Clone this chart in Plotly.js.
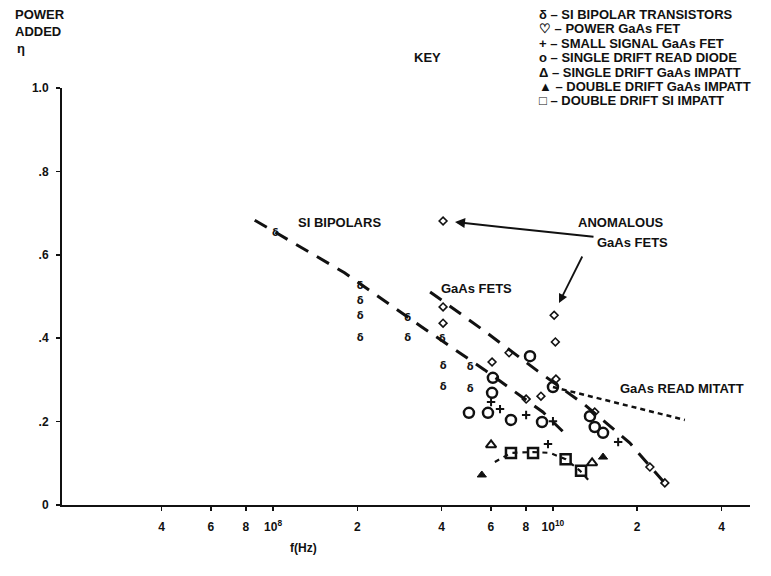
<!DOCTYPE html>
<html>
<head>
<meta charset="utf-8">
<script src="https://cdn.plot.ly/plotly-3.0.1.min.js"></script>
<style>html,body{margin:0;padding:0;background:#fff;}#chart{width:771px;height:576px;}</style>
</head>
<body>
<div id="chart"></div>
<script>
// ---------- data (frequency in Hz on the printed log scale, efficiency eta) ----------
const siBipolarF   = [1.02e8, 2.05e8, 2.05e8, 2.05e8, 2.05e8, 3.03e8, 3.03e8, 4.02e8, 4.05e8, 4.05e8, 5.06e8, 5.06e8];
const siBipolarEta = [0.652, 0.523, 0.487, 0.451, 0.400, 0.448, 0.400, 0.396, 0.331, 0.281, 0.329, 0.276];

const powerFetF    = [4.05e8, 4.05e8, 4.05e8, 6.06e8, 6.97e8, 1.01e9, 1.02e9, 1.025e9, 8.02e8, 9.06e8, 1.41e9, 2.22e9, 2.51e9];
const powerFetEta  = [0.681, 0.475, 0.436, 0.343, 0.365, 0.455, 0.391, 0.302, 0.254, 0.261, 0.223, 0.091, 0.053];

const smallFetF    = [6.01e8, 6.47e8, 8.02e8, 1.0e9, 9.6e8, 1.71e9];
const smallFetEta  = [0.247, 0.230, 0.216, 0.201, 0.146, 0.151];

const readDiodeF   = [6.1e8, 6.06e8, 5.01e8, 5.86e8, 7.08e8, 8.28e8, 9.14e8, 1.0e9, 1.356e9, 1.41e9, 1.51e9];
const readDiodeEta = [0.305, 0.269, 0.221, 0.221, 0.204, 0.357, 0.199, 0.283, 0.213, 0.187, 0.173];

const sdGaAsF      = [6.01e8, 1.38e9];
const sdGaAsEta    = [0.144, 0.101];

const ddGaAsF      = [5.57e8, 1.51e9];
const ddGaAsEta    = [0.072, 0.115];

const ddSiF        = [7.08e8, 8.49e8, 1.11e9, 1.26e9];
const ddSiEta      = [0.125, 0.125, 0.110, 0.082];

// trend curves
const siLineF      = [8.6e7, 1.8e8, 3.4e8, 5.7e8, 9.2e8, 1.09e9];
const siLineEta    = [0.683, 0.557, 0.427, 0.324, 0.223, 0.175];
const fetLineF     = [3.64e8, 5.62e8, 8.83e8, 1.30e9, 1.88e9, 2.58e9];
const fetLineEta   = [0.511, 0.420, 0.321, 0.240, 0.149, 0.043];
const mitattLineF  = [1.0e9, 2.96e9];
const mitattLineEta= [0.283, 0.204];
const impattLineF  = [6.2e8, 7.08e8, 8.49e8, 9.75e8, 1.11e9, 1.25e9, 1.36e9];
const impattLineEta= [0.103, 0.125, 0.127, 0.125, 0.110, 0.082, 0.055];

// axis ticks
const xTickVals  = [4e7, 6e7, 8e7, 1e8, 2e8, 4e8, 6e8, 8e8, 1e9, 2e9, 4e9];
const xTickText  = ["4", "6", "8", "10<sup>8</sup>", "2", "4", "6", "8", "10<sup>10</sup>", "2", "4"];
const yTickVals  = [0, 0.2, 0.4, 0.6, 0.8, 1.0];
const yTickText  = ["0", ".2", ".4", ".6", ".8", "1.0"];

// key
const keyLines = [
  "δ – SI BIPOLAR TRANSISTORS",
  "♡ – POWER GaAs FET",
  "+ – SMALL SIGNAL GaAs FET",
  "o – SINGLE DRIFT READ DIODE",
  "Δ – SINGLE DRIFT GaAs IMPATT",
  "▲ – DOUBLE DRIFT GaAs IMPATT",
  "□ – DOUBLE DRIFT SI IMPATT"
];

// ---------- layout helpers ----------
const W = 771, H = 576, ML = 62, MR = 21, MT = 88, MB = 71;
const PW = W - ML - MR, PH = H - MT - MB;
function px(x) { return (x - ML) / PW; }
function py(y) { return (H - MB - y) / PH; }
const FONT = "Liberation Sans, Arial, sans-serif";
const txt = (s, x, y, opts) => Object.assign({
  text: "<b>" + s + "</b>", x: px(x), y: py(y), xref: "paper", yref: "paper",
  showarrow: false, xanchor: "center", yanchor: "middle",
  font: {family: FONT, size: 13, color: "#111"}
}, opts || {});

const lineTrace = (f, e, dash, w) => ({
  x: f, y: e, mode: "lines", type: "scatter", hoverinfo: "skip",
  line: {color: "#111", width: w, dash: dash}
});
const markTrace = (f, e, sym, size, lw) => ({
  x: f, y: e, mode: "markers", type: "scatter", cliponaxis: false, hoverinfo: "skip",
  marker: {symbol: sym, size: size, color: "#111", line: {color: "#111", width: lw}}
});

const data = [
  lineTrace(siLineF, siLineEta, "14px,10px", 3),
  lineTrace(fetLineF, fetLineEta, "14px,10px", 3),
  lineTrace(mitattLineF, mitattLineEta, "5px,4px", 2.5),
  lineTrace(impattLineF, impattLineEta, "5px,5px", 2.2),
  {x: siBipolarF, y: siBipolarEta, mode: "text", type: "scatter", text: siBipolarF.map(() => "<b>δ</b>"),
   cliponaxis: false, hoverinfo: "skip", textfont: {family: "DejaVu Sans", size: 10, color: "#111"}},
  markTrace(powerFetF, powerFetEta, "diamond-open", 6, 1.6),
  markTrace(smallFetF, smallFetEta, "cross-thin-open", 6, 2),
  markTrace(readDiodeF, readDiodeEta, "circle-open", 10, 2.5),
  markTrace(sdGaAsF, sdGaAsEta, "triangle-up-open", 9, 2),
  markTrace(ddGaAsF, ddGaAsEta, "triangle-up", 8, 1),
  markTrace(ddSiF, ddSiEta, "square-open", 10, 2.5)
];

const annotations = [
  txt("POWER", 13, 15, {xanchor: "left"}),
  txt("ADDED", 13, 32, {xanchor: "left"}),
  txt("η", 15, 49, {xanchor: "left"}),
  txt("KEY", 427, 57),
  txt("SI BIPOLARS", 339, 222),
  txt("ANOMALOUS", 621, 222),
  txt("GaAs FETS", 632, 242),
  txt("GaAs FETS", 476, 288),
  txt("GaAs READ MITATT", 618, 388, {xanchor: "left"}),
  txt("f(Hz)", 303, 548, {font: {family: FONT, size: 12, color: "#111"}}),
  {x: px(455), y: py(222), xref: "paper", yref: "paper", text: "", showarrow: true,
   ax: 140, ay: 15, arrowhead: 2, arrowsize: 1, arrowwidth: 2, arrowcolor: "#111"},
  {x: px(559), y: py(303), xref: "paper", yref: "paper", text: "", showarrow: true,
   ax: 24, ay: -48, arrowhead: 2, arrowsize: 1, arrowwidth: 1.8, arrowcolor: "#111"}
];
const keyRows = [14, 28, 43, 57, 72, 86, 100];
keyLines.forEach((s, i) => annotations.push(txt(s, 537, keyRows[i], {xanchor: "left"})));

const layout = {
  width: W, height: H,
  margin: {l: ML, r: MR, t: MT, b: MB, pad: 0},
  paper_bgcolor: "#fff", plot_bgcolor: "#fff",
  showlegend: false, hovermode: false,
  font: {family: FONT, color: "#111"},
  xaxis: {
    type: "log", range: [7.246, 9.704],
    showline: true, linecolor: "#111", linewidth: 2,
    showgrid: false, zeroline: false,
    ticks: "outside", ticklen: 4, tickwidth: 1.5, tickcolor: "#111",
    tickvals: xTickVals, ticktext: xTickText, ticklabelstandoff: 6,
    tickfont: {family: FONT, size: 12, color: "#111", weight: "bold"}
  },
  yaxis: {
    range: [0, 1],
    showline: true, linecolor: "#111", linewidth: 2,
    showgrid: false, zeroline: false,
    ticks: "outside", ticklen: 4, tickwidth: 1.5, tickcolor: "#111",
    tickvals: yTickVals, ticktext: yTickText, ticklabelstandoff: 5,
    tickfont: {family: FONT, size: 12, color: "#111", weight: "bold"}
  },
  annotations: annotations
};

Plotly.newPlot("chart", data, layout, {staticPlot: true, displayModeBar: false});
</script>
</body>
</html>
